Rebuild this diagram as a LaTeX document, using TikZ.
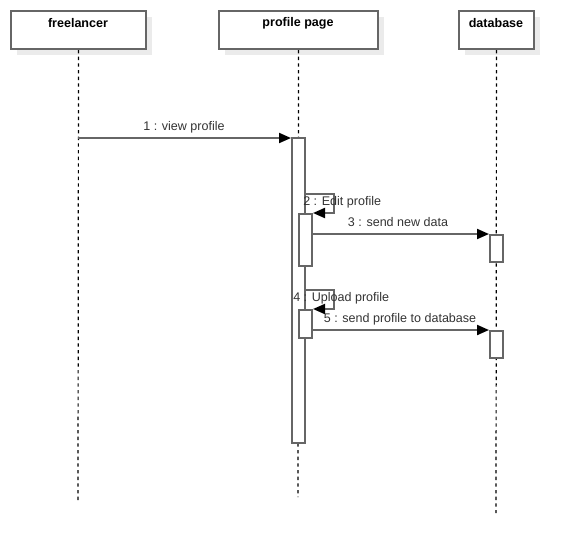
\documentclass[tikz,border=0pt]{standalone}
\usepackage{fontspec}
\setmainfont{Liberation Sans}
\usetikzlibrary{arrows.meta}
\definecolor{boxline}{HTML}{666666}
\definecolor{shadowc}{HTML}{EBEBEB}
\begin{document}
\begin{tikzpicture}[x=0.75pt,y=-0.75pt,
  hdrbox/.style={draw=boxline,line width=1.5pt,fill=white,rectangle,anchor=north west,inner sep=0pt,minimum height=28.5pt},
  shadowbox/.style={fill=shadowc,rectangle,anchor=north west,inner sep=0pt,minimum height=28.5pt},
  hdrtext/.style={font=\fontsize{9.4}{11}\selectfont\bfseries,anchor=center,inner sep=0pt},
  actbar/.style={draw=boxline,line width=1.5pt,fill=white,rectangle,anchor=north west,inner sep=0pt,minimum width=9.75pt},
  lifeline/.style={draw=black,line width=0.9pt,dash pattern=on 2.5pt off 2.5pt},
  msg/.style={draw=boxline,line width=1.5pt,-{Triangle[length=9pt,width=7.5pt,fill=black,color=black]}},
  msglabel/.style={font=\fontsize{9.4}{11}\selectfont,text=black!80,inner sep=0pt}
]
\useasboundingbox (0,0) rectangle (573,554);
% shadows
\node[shadowbox,minimum width=101.25pt] (fls) at (17,17) {};
\node[shadowbox,minimum width=119.25pt] (pps) at (225,17) {};
\node[shadowbox,minimum width=56.25pt] (dbs) at (465,17) {};
% header boxes
\node[hdrbox,minimum width=101.25pt] (fl) at (10,10) {};
\node[hdrbox,minimum width=119.25pt] (pp) at (218,10) {};
\node[hdrbox,minimum width=56.25pt] (db) at (458,10) {};
\node[hdrtext] (flt) at (78,23) {freelancer};
\node[hdrtext] (ppt) at (298,23) {profile page};
\node[hdrtext] (dbt) at (496,23) {database};
% lifeline ends
\coordinate (flend) at (78,502);
\coordinate (ppend) at (298,497);
\coordinate (dbend) at (496,513);
\draw[lifeline] (fl.south) -- (flend);
\draw[lifeline] (pp.south) -- (ppend);
\draw[lifeline] (db.south) -- (dbend);
% activation bars
\node[actbar,minimum height=228.75pt] (b1) at (291,137) {};
\node[actbar,minimum height=39pt] (b2) at (298,213) {};
\node[actbar,minimum height=21pt] (b4) at (298,309) {};
\node[actbar,minimum height=20.25pt] (d1) at (489,234) {};
\node[actbar,minimum height=20.25pt] (d2) at (489,330) {};
% message 1
\coordinate (m1s) at (78,138);
\draw[msg] (m1s) -- (b1.north west |- m1s);
\node[msglabel] (l1) at (184,127) {1 : view profile};
% message 2 self call
\coordinate (m2a) at (304,194);
\coordinate (m2b) at (334,194);
\coordinate (m2c) at (334,213);
\draw[msg] (m2a) -- (m2b) -- (m2c) -- (b2.north east);
\node[msglabel,anchor=west] (l2) at (303,202) {2 : Edit profile};
% message 3
\coordinate (m3s) at (311,234);
\draw[msg] (m3s) -- (d1.north west);
\node[msglabel] (l3) at (398,222) {3 : send new data};
% message 4 self call
\coordinate (m4a) at (304,290);
\coordinate (m4b) at (334,290);
\coordinate (m4c) at (334,309);
\draw[msg] (m4a) -- (m4b) -- (m4c) -- (b4.north east);
\node[msglabel,anchor=west] (l4) at (293,298) {4 : Upload profile};
% message 5
\coordinate (m5s) at (311,330);
\draw[msg] (m5s) -- (d2.north west);
\node[msglabel] (l5) at (400,319) {5 : send profile to database};
\end{tikzpicture}
\end{document}
